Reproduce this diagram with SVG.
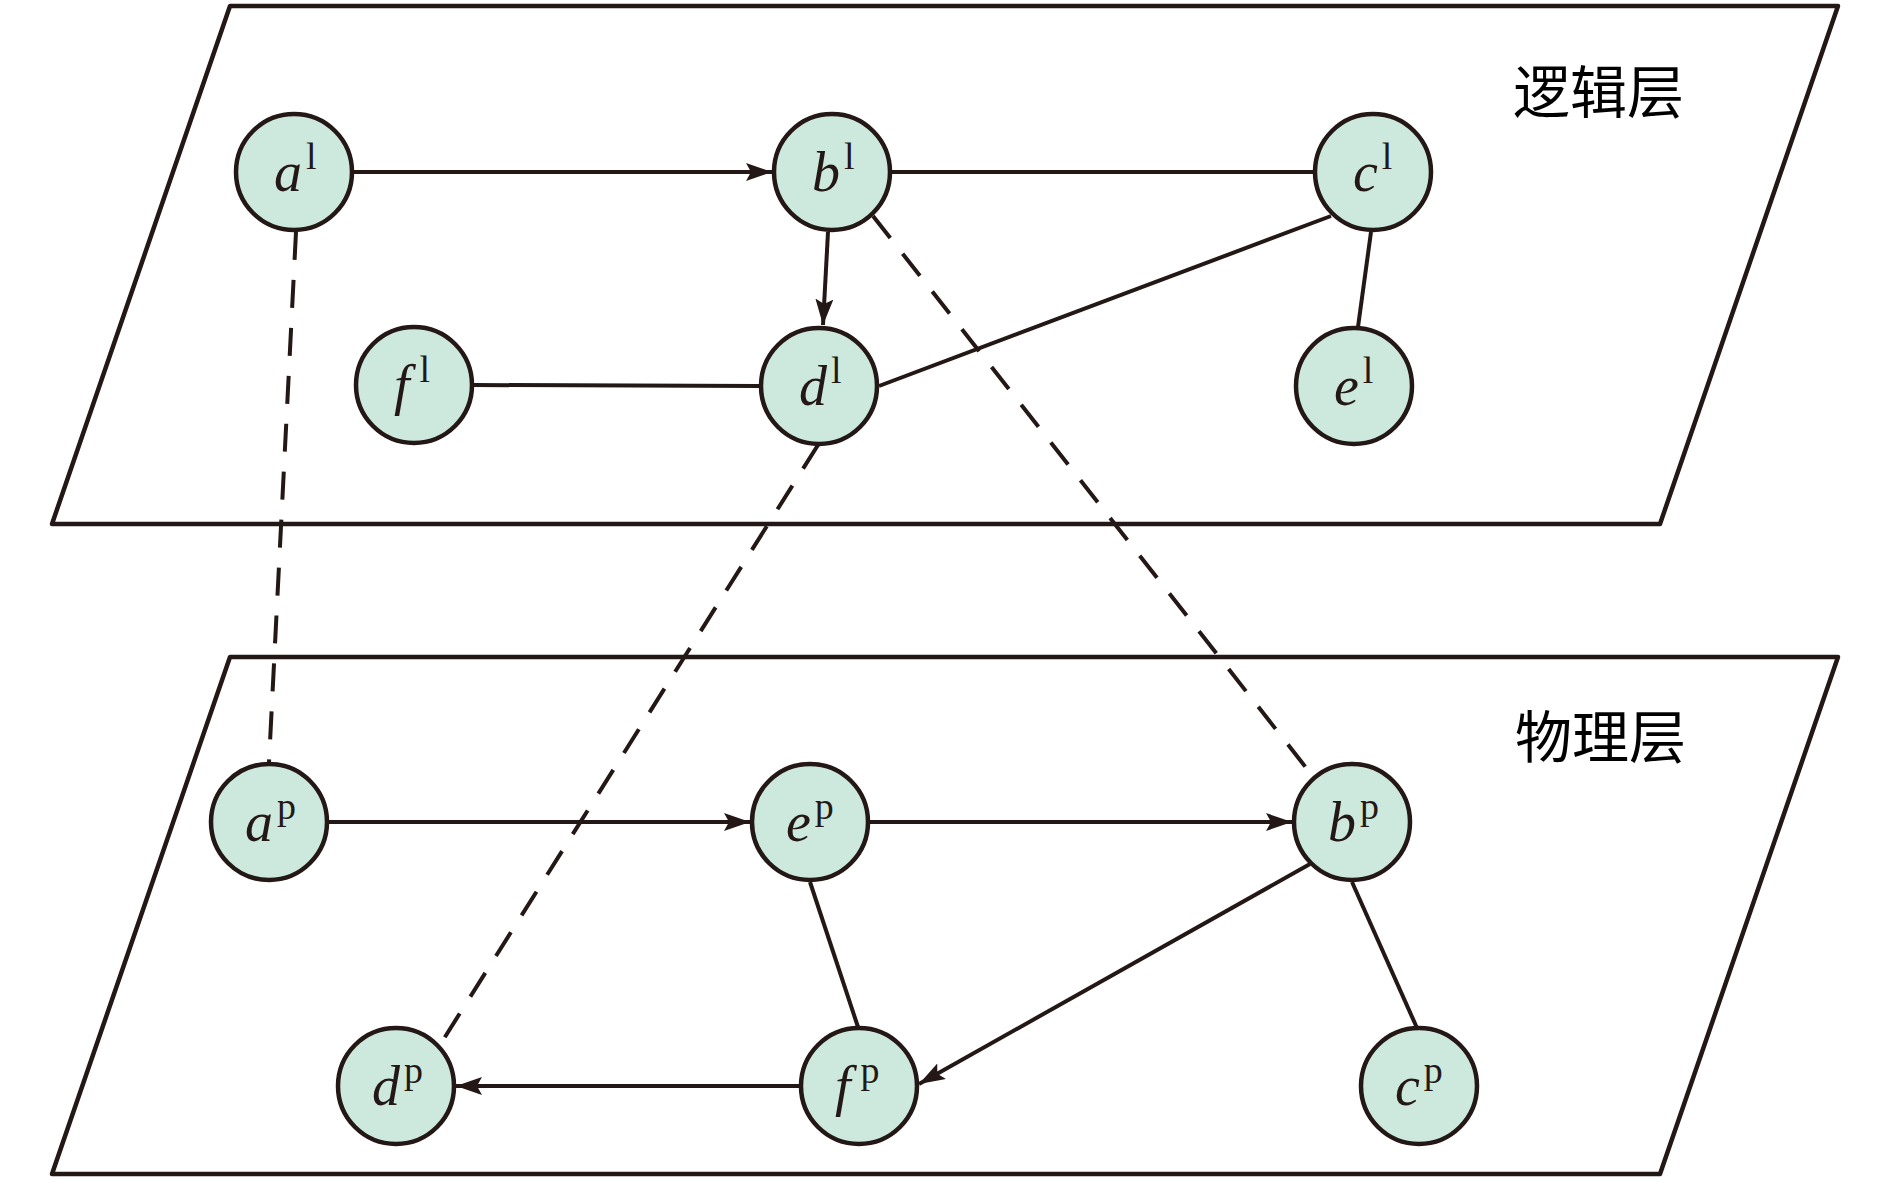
<svg xmlns="http://www.w3.org/2000/svg" width="1890" height="1182" viewBox="0 0 1890 1182">
<defs>
<marker id="arr" markerUnits="userSpaceOnUse" markerWidth="28" markerHeight="20" refX="26" refY="9" orient="auto">
<path d="M0,0 L26,9 L0,18 L5,9 Z" fill="#231815"/>
</marker>
</defs>
<style>
.plane{fill:#fff;stroke:#231815;stroke-width:4.5;stroke-linejoin:round}
.node circle{fill:#cde8dc;stroke:#231815;stroke-width:4.5}
.e{stroke:#231815;stroke-width:4;fill:none}
.a{marker-end:url(#arr)}
.d{stroke-dasharray:28 20}
.lbl{font-family:"Liberation Serif","DejaVu Serif",serif;font-size:56px;font-style:italic;fill:#231815}
.sup{font-style:normal;font-size:38px}
.title{font-family:"Noto Sans CJK SC",sans-serif;font-size:57px;fill:#000}
</style>
<rect width="1890" height="1182" fill="#fff"/>
<g id="logic-plane"><polygon class="plane" points="230,6 1838,6 1660,524 52,524"/></g>
<g id="phys-plane"><polygon class="plane" points="230,657 1838,657 1660,1174 52,1174"/></g>
<text class="title" x="1513" y="113">逻辑层</text>
<text class="title" x="1515" y="758">物理层</text>
<g id="connectors">
<line class="e a" x1="354" y1="172" x2="772" y2="172"/>
<line class="e" x1="892" y1="172" x2="1313" y2="172"/>
<line class="e a" x1="828" y1="232" x2="823" y2="325"/>
<line class="e" x1="879" y1="386" x2="1331" y2="216"/>
<line class="e" x1="1371" y1="232" x2="1358" y2="327"/>
<line class="e" x1="474" y1="385" x2="759" y2="386"/>
<line class="e a" x1="329" y1="822" x2="750" y2="822"/>
<line class="e a" x1="870" y1="822" x2="1292" y2="822"/>
<line class="e a" x1="1310" y1="864" x2="919" y2="1084"/>
<line class="e a" x1="799" y1="1086" x2="456" y2="1086"/>
<line class="e" x1="810" y1="882" x2="858" y2="1027"/>
<line class="e" x1="1352" y1="882" x2="1417" y2="1028"/>
<line class="e d" x1="296" y1="232" x2="269" y2="762"/>
<line class="e d" x1="873" y1="216" x2="1311" y2="774"/>
<line class="e d" x1="818" y1="445" x2="438" y2="1048"/>
</g>
<g id="a-l" class="node"><circle cx="294" cy="172" r="58"/><text class="lbl" x="274" y="191">a<tspan class="sup" dx="4" dy="-22">l</tspan></text></g>
<g id="b-l" class="node"><circle cx="832" cy="172" r="58"/><text class="lbl" x="812" y="191">b<tspan class="sup" dx="4" dy="-22">l</tspan></text></g>
<g id="c-l" class="node"><circle cx="1373" cy="172" r="58"/><text class="lbl" x="1353" y="191">c<tspan class="sup" dx="4" dy="-22">l</tspan></text></g>
<g id="f-l" class="node"><circle cx="414" cy="385" r="58"/><text class="lbl" x="394" y="404">f<tspan class="sup" dx="10" dy="-22">l</tspan></text></g>
<g id="d-l" class="node"><circle cx="819" cy="386" r="58"/><text class="lbl" x="799" y="405">d<tspan class="sup" dx="4" dy="-22">l</tspan></text></g>
<g id="e-l" class="node"><circle cx="1354" cy="386" r="58"/><text class="lbl" x="1334" y="405">e<tspan class="sup" dx="4" dy="-22">l</tspan></text></g>
<g id="a-p" class="node"><circle cx="269" cy="822" r="58"/><text class="lbl" x="245" y="841">a<tspan class="sup" dx="4" dy="-22">p</tspan></text></g>
<g id="e-p" class="node"><circle cx="810" cy="822" r="58"/><text class="lbl" x="786" y="841">e<tspan class="sup" dx="4" dy="-22">p</tspan></text></g>
<g id="b-p" class="node"><circle cx="1352" cy="822" r="58"/><text class="lbl" x="1328" y="841">b<tspan class="sup" dx="4" dy="-22">p</tspan></text></g>
<g id="d-p" class="node"><circle cx="396" cy="1086" r="58"/><text class="lbl" x="372" y="1105">d<tspan class="sup" dx="4" dy="-22">p</tspan></text></g>
<g id="f-p" class="node"><circle cx="859" cy="1086" r="58"/><text class="lbl" x="835" y="1105">f<tspan class="sup" dx="10" dy="-22">p</tspan></text></g>
<g id="c-p" class="node"><circle cx="1419" cy="1086" r="58"/><text class="lbl" x="1395" y="1105">c<tspan class="sup" dx="4" dy="-22">p</tspan></text></g>
</svg>
